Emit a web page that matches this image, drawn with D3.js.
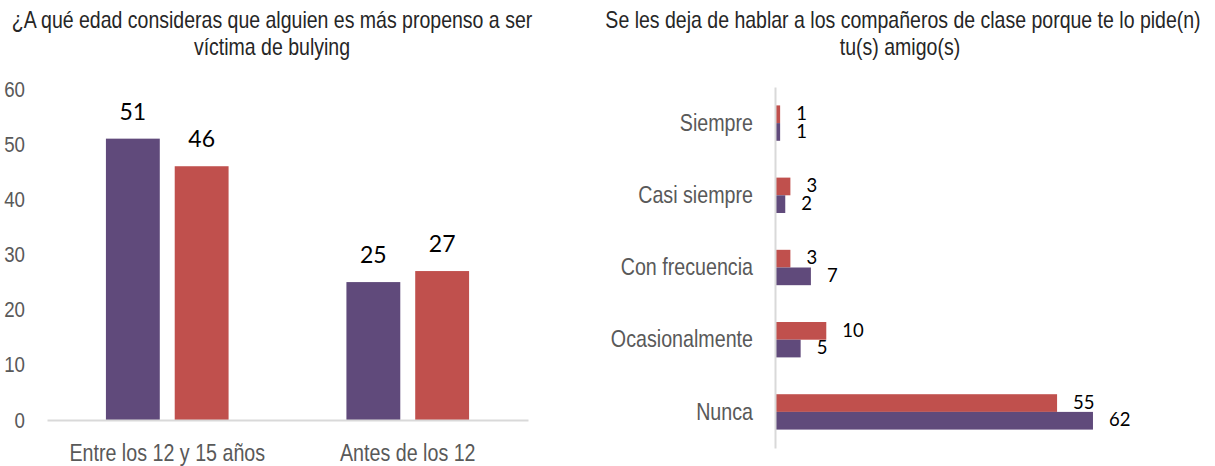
<!DOCTYPE html>
<html>
<head>
<meta charset="utf-8">
<script src="https://cdn.jsdelivr.net/npm/d3@7"></script>
<style>
  body { margin: 0; background: #fff; }
  .narrow { font-family: "Liberation Sans", Arial, sans-serif; }
  .lbl { font-family: Lato, "Open Sans", sans-serif; fill: #000; }
</style>
</head>
<body>
<svg id="chart" width="1215" height="466"></svg>
<script>
// datos grafica izquierda
var edadCategorias = ["Entre los 12 y 15 años", "Antes de los 12"];
var edadMorado = [51, 25];
var edadRojo = [46, 27];
var edadTicks = [0, 10, 20, 30, 40, 50, 60];

// datos grafica derecha
var hablarCategorias = ["Siempre", "Casi siempre", "Con frecuencia", "Ocasionalmente", "Nunca"];
var hablarMorado = [1, 2, 7, 5, 62];
var hablarRojo = [1, 3, 3, 10, 55];

var MORADO = "#604a7b";
var ROJO = "#c0504d";
var svg = d3.select("#chart");

// no hay Arial Narrow, se estrecha el texto con una escala horizontal
var estrechar = function(sel, factor) {
  sel.each(function() {
    var x = +this.getAttribute("x") || 0;
    d3.select(this).attr("transform",
      "translate(" + x + ",0) scale(" + factor + ",1) translate(" + (-x) + ",0)");
  });
}

var titulo = function(g, x, y, txt) {
  g.append("text").attr("class", "narrow")
    .attr("x", x).attr("y", y)
    .attr("text-anchor", "middle")
    .attr("font-size", "23.8px").attr("fill", "#262626")
    .text(txt)
    .call(estrechar, 0.82);
}

// ---- grafica izquierda ----
var left = svg.append("g");

titulo(left, 272, 28, "¿A qué edad consideras que alguien es más propenso a ser");
titulo(left, 272, 55, "víctima de bulying");

var x0 = d3.scaleBand().domain(edadCategorias).range([47, 528])
  .paddingInner(0.49).paddingOuter(0.245);
var x1 = d3.scaleBand().domain(["morado", "rojo"]).range([0, x0.bandwidth()])
  .paddingInner(0.217);
var yL = d3.scaleLinear().domain([0, 60]).range([420, 89]);

var yAxisL = left.append("g")
  .attr("transform", "translate(47,0)")
  .call(d3.axisLeft(yL).tickValues(edadTicks).tickSize(0).tickPadding(22));
yAxisL.select(".domain").remove();
yAxisL.selectAll("text").attr("class", "narrow")
  .attr("font-size", "22px").attr("fill", "#595959")
  .call(estrechar, 0.85);

var grupos = left.selectAll(".grupo")
  .data(edadCategorias.map(function(c, i) {
    return {cat: c, valores: [{s: "morado", v: edadMorado[i]}, {s: "rojo", v: edadRojo[i]}]};
  }))
  .enter().append("g")
  .attr("transform", function(d) { return "translate(" + x0(d.cat) + ",0)"; });

grupos.selectAll("rect")
  .data(function(d) { return d.valores; })
  .enter().append("rect")
  .attr("x", function(d) { return x1(d.s); })
  .attr("y", function(d) { return yL(d.v); })
  .attr("width", x1.bandwidth())
  .attr("height", function(d) { return yL(0) - yL(d.v); })
  .attr("fill", function(d) { return d.s == "morado" ? MORADO : ROJO; });

grupos.selectAll(".lbl")
  .data(function(d) { return d.valores; })
  .enter().append("text")
  .attr("class", "lbl")
  .attr("x", function(d) { return x1(d.s) + x1.bandwidth() / 2; })
  .attr("y", function(d) { return yL(d.v) - 19; })
  .attr("text-anchor", "middle")
  .attr("font-size", "23px")
  .text(function(d) { return d.v; });

var xAxisL = left.append("g")
  .attr("transform", "translate(0,420)")
  .call(d3.axisBottom(x0).tickSize(0).tickPadding(24));
xAxisL.select(".domain").attr("stroke", "#d9d9d9").attr("stroke-width", 2);
xAxisL.selectAll("text").attr("class", "narrow")
  .attr("font-size", "24px").attr("fill", "#595959")
  .call(estrechar, 0.82);

// ---- grafica derecha ----
var right = svg.append("g");

titulo(right, 903, 28, "Se les deja de hablar a los compañeros de clase porque te lo pide(n)");
titulo(right, 900, 55, "tu(s) amigo(s)");

var y0 = d3.scaleBand().domain(hablarCategorias).range([87, 448])
  .paddingInner(0.51).paddingOuter(0.255);
var y1 = d3.scaleBand().domain(["rojo", "morado"]).range([0, y0.bandwidth()]);
var xR = d3.scaleLinear().domain([0, 70]).range([775, 1134]);

var filas = right.selectAll(".fila")
  .data(hablarCategorias.map(function(c, i) {
    return {cat: c, valores: [{s: "rojo", v: hablarRojo[i]}, {s: "morado", v: hablarMorado[i]}]};
  }))
  .enter().append("g")
  .attr("transform", function(d) { return "translate(0," + y0(d.cat) + ")"; });

filas.selectAll("rect")
  .data(function(d) { return d.valores; })
  .enter().append("rect")
  .attr("x", xR(0))
  .attr("y", function(d) { return y1(d.s); })
  .attr("width", function(d) { return xR(d.v) - xR(0); })
  .attr("height", y1.bandwidth())
  .attr("fill", function(d) { return d.s == "morado" ? MORADO : ROJO; });

filas.selectAll(".lbl")
  .data(function(d) { return d.valores; })
  .enter().append("text")
  .attr("class", "lbl")
  .attr("x", function(d) { return xR(d.v) + 16; })
  .attr("y", function(d) { return y1(d.s) + y1.bandwidth() / 2 + 1; })
  .attr("dominant-baseline", "middle")
  .attr("font-size", "18.5px")
  .text(function(d) { return d.v; });

var yAxisR = right.append("g")
  .attr("transform", "translate(775,0)")
  .call(d3.axisLeft(y0).tickSize(0).tickPadding(22));
yAxisR.select(".domain").attr("stroke", "#d9d9d9").attr("stroke-width", 2);
yAxisR.selectAll("text").attr("class", "narrow")
  .attr("font-size", "24px").attr("fill", "#595959")
  .call(estrechar, 0.82);
</script>
</body>
</html>
